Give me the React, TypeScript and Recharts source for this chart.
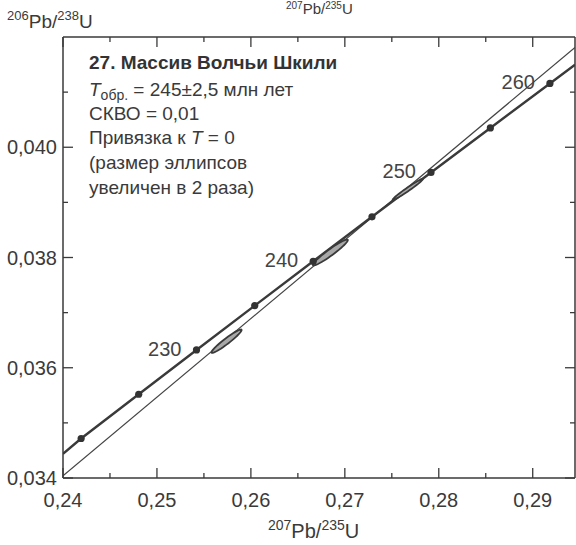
import React from "react";
import { ComposedChart, Scatter, XAxis, YAxis } from "recharts";

// Concordia points (every 5 Ma)
const concordiaAges = [220, 225, 230, 235, 240, 245, 250, 255, 260];
const concordiaX = [0.24193, 0.24806, 0.25421, 0.26041, 0.26663, 0.27289, 0.27917, 0.28549, 0.29183];
const concordiaY = [0.034717, 0.035519, 0.036323, 0.037127, 0.037932, 0.038738, 0.039543, 0.04035, 0.041157];
// where the concordia leaves the frame
const concordiaEndX = [0.24, 0.2945];
const concordiaEndY = [0.03444, 0.041497];
const labeledAges = [230, 240, 250, 260];

// discordia anchored at T = 0
const discordiaX = [0.24, 0.2945];
const discordiaY = [0.03404, 0.04181];

// error ellipses (x2)
const ellipseX = [0.25741, 0.26846, 0.2767];
const ellipseY = [0.036482, 0.038091, 0.039236];
const ellipseSx = [0.0016, 0.00186, 0.0016];
const ellipseSy = [0.000212, 0.000235, 0.00019];
const ellipseRho = [0.955, 0.955, 0.98];

const xTicks = [0.24, 0.245, 0.25, 0.255, 0.26, 0.265, 0.27, 0.275, 0.28, 0.285, 0.29];
const yTicks = [0.034, 0.035, 0.036, 0.037, 0.038, 0.039, 0.04, 0.041];

const X_DOMAIN: [number, number] = [0.24, 0.2945];
const Y_DOMAIN: [number, number] = [0.034, 0.042];
const PLOT_W = 512;
const PLOT_H = 441;
const pxPerX = PLOT_W / (X_DOMAIN[1] - X_DOMAIN[0]);
const pxPerY = PLOT_H / (Y_DOMAIN[1] - Y_DOMAIN[0]);

const INK = "#3a3a3a";
const FONT = "'Liberation Sans', Arial, Helvetica, sans-serif";

const concordiaLine = [
  { x: concordiaEndX[0], y: concordiaEndY[0] },
  ...concordiaX.map((x, i) => ({ x, y: concordiaY[i] })),
  { x: concordiaEndX[1], y: concordiaEndY[1] },
];
const concordiaDots = concordiaAges.map((age, i) => ({ age, x: concordiaX[i], y: concordiaY[i] }));
const discordia = discordiaX.map((x, i) => ({ x, y: discordiaY[i] }));
const ellipses = ellipseX.map((x, i) => ({
  x,
  y: ellipseY[i],
  sx: ellipseSx[i],
  sy: ellipseSy[i],
  rho: ellipseRho[i],
}));

const isMajor = (v: number, step: number) => Math.abs(v / step - Math.round(v / step)) < 1e-6;

const BottomTick = ({ x, y, payload }: any) => {
  const major = isMajor(payload.value, 0.01);
  return (
    <g>
      <line x1={x} x2={x} y1={y} y2={y - (major ? 10 : 5)} stroke={INK} strokeWidth={1.3} />
      {major && (
        <text x={x} y={y + 29} textAnchor="middle" fontSize={20} fill={INK} fontFamily={FONT}>
          {payload.value.toFixed(2).replace(".", ",")}
        </text>
      )}
    </g>
  );
};

const TopTick = ({ x, y, payload }: any) => {
  const major = isMajor(payload.value, 0.01);
  return <line x1={x} x2={x} y1={y} y2={y + (major ? 10 : 5)} stroke={INK} strokeWidth={1.3} />;
};

const LeftTick = ({ x, y, payload }: any) => {
  const major = isMajor(payload.value, 0.002);
  return (
    <g>
      <line x1={x} x2={x + (major ? 10 : 5)} y1={y} y2={y} stroke={INK} strokeWidth={1.3} />
      {major && (
        <text x={x - 6} y={y + 7} textAnchor="end" fontSize={20} fill={INK} fontFamily={FONT}>
          {payload.value.toFixed(3).replace(".", ",")}
        </text>
      )}
    </g>
  );
};

const RightTick = ({ x, y, payload }: any) => {
  const major = isMajor(payload.value, 0.002);
  return <line x1={x} x2={x - (major ? 10 : 5)} y1={y} y2={y} stroke={INK} strokeWidth={1.3} />;
};

const AgeDot = ({ cx, cy, payload }: any) => (
  <g>
    <circle cx={cx} cy={cy} r={3.6} fill="#333" />
    {labeledAges.includes(payload.age) && (
      <text x={cx - 15} y={cy + 6} textAnchor="end" fontSize={20} fill="#444" fontFamily={FONT}>
        {payload.age}
      </text>
    )}
  </g>
);

const ErrorEllipse = ({ cx, cy, payload }: any) => {
  const { sx, sy, rho } = payload;
  const k = Math.sqrt(1 - rho * rho);
  const pts: string[] = [];
  for (let i = 0; i <= 48; i++) {
    const t = (i / 48) * Math.PI * 2;
    const dx = sx * Math.cos(t) * pxPerX;
    const dy = -sy * (rho * Math.cos(t) + k * Math.sin(t)) * pxPerY;
    pts.push(`${(cx + dx).toFixed(2)},${(cy + dy).toFixed(2)}`);
  }
  return <path d={`M${pts.join("L")}Z`} fill="#a8a8a8" stroke="#3a3a3a" strokeWidth={1.8} />;
};

const NoShape = () => <g />;

export default function App() {
  return (
    <div style={{ position: "absolute", left: 0, top: 0, width: 576, height: 545, background: "#fff" }}>
      <ComposedChart width={576} height={545} margin={{ top: 36, right: 0, bottom: 0, left: 0 }}>
        <XAxis
          xAxisId="b"
          dataKey="x"
          type="number"
          domain={X_DOMAIN}
          allowDataOverflow
          ticks={xTicks}
          interval={0}
          height={67}
          tickSize={0}
          tickMargin={0}
          tick={(p: any) => <BottomTick {...p} />}
          axisLine={{ stroke: INK, strokeWidth: 1.5 }}
        />
        <XAxis
          xAxisId="t"
          orientation="top"
          dataKey="x"
          type="number"
          domain={X_DOMAIN}
          allowDataOverflow
          ticks={xTicks}
          interval={0}
          height={1}
          tickSize={0}
          tickMargin={0}
          tick={(p: any) => <TopTick {...p} />}
          axisLine={{ stroke: INK, strokeWidth: 1.5 }}
        />
        <YAxis
          yAxisId="l"
          dataKey="y"
          type="number"
          domain={Y_DOMAIN}
          allowDataOverflow
          ticks={yTicks}
          interval={0}
          width={63}
          tickSize={0}
          tickMargin={0}
          tick={(p: any) => <LeftTick {...p} />}
          axisLine={{ stroke: INK, strokeWidth: 1.5 }}
        />
        <YAxis
          yAxisId="r"
          orientation="right"
          dataKey="y"
          type="number"
          domain={Y_DOMAIN}
          allowDataOverflow
          ticks={yTicks}
          interval={0}
          width={1}
          tickSize={0}
          tickMargin={0}
          tick={(p: any) => <RightTick {...p} />}
          axisLine={{ stroke: INK, strokeWidth: 1.5 }}
        />
        <Scatter
          xAxisId="b"
          yAxisId="l"
          data={discordia}
          line={{ stroke: "#444", strokeWidth: 1.2 }}
          shape={NoShape}
          isAnimationActive={false}
        />
        <Scatter
          xAxisId="b"
          yAxisId="l"
          data={concordiaLine}
          line={{ stroke: "#3a3a3a", strokeWidth: 2.4 }}
          shape={NoShape}
          isAnimationActive={false}
        />
        <Scatter
          xAxisId="b"
          yAxisId="l"
          data={ellipses}
          shape={(p: any) => <ErrorEllipse {...p} />}
          isAnimationActive={false}
        />
        <Scatter
          xAxisId="b"
          yAxisId="l"
          data={concordiaDots}
          shape={(p: any) => <AgeDot {...p} />}
          isAnimationActive={false}
        />
      </ComposedChart>
      <svg
        width={576}
        height={545}
        style={{ position: "absolute", left: 0, top: 0, pointerEvents: "none" }}
        fontFamily={FONT}
        fill={INK}
      >
        {/* caption left over from the figure above */}
        <text x={286} y={14} fontSize={15}>
          <tspan fontSize={10} dy={-5}>207</tspan>
          <tspan dy={5}>Pb/</tspan>
          <tspan fontSize={10} dy={-5}>235</tspan>
          <tspan dy={5}>U</tspan>
        </text>
        <text x={7} y={28} fontSize={19}>
          <tspan fontSize={13} dy={-8}>206</tspan>
          <tspan dy={8}>Pb/</tspan>
          <tspan fontSize={13} dy={-8}>238</tspan>
          <tspan dy={8}>U</tspan>
        </text>
        <text x={268} y={538} fontSize={20}>
          <tspan fontSize={14} dy={-8}>207</tspan>
          <tspan dy={8}>Pb/</tspan>
          <tspan fontSize={14} dy={-8}>235</tspan>
          <tspan dy={8}>U</tspan>
        </text>
        <g fontSize={19}>
          <text x={89} y={69} fontWeight="bold" fill="#333">
            27. Массив Волчьи Шкили
          </text>
          <text x={89} y={96}>
            <tspan fontStyle="italic">T</tspan>
            <tspan fontSize={14} dy={4}>обр.</tspan>
            <tspan dy={-4}> = 245±2,5 млн лет</tspan>
          </text>
          <text x={89} y={120}>СКВО = 0,01</text>
          <text x={89} y={144}>
            Привязка к <tspan fontStyle="italic">T</tspan> = 0
          </text>
          <text x={89} y={169}>(размер эллипсов</text>
          <text x={89} y={194}>увеличен в 2 раза)</text>
        </g>
      </svg>
    </div>
  );
}
